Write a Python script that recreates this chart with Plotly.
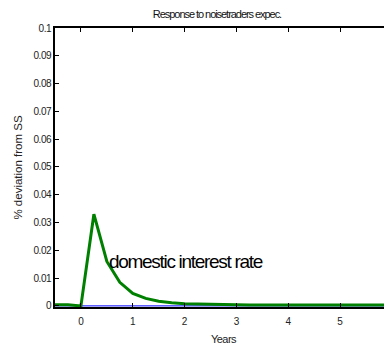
import plotly.graph_objects as go

years = [-0.5 + 0.25 * i for i in range(27)]
interest_rate = [0.0004, 0.0004, 0.0, 0.033, 0.016, 0.0085, 0.0045, 0.0027,
                 0.0017, 0.0011, 0.0008, 0.0007, 0.0004, 0.0003, 0.0003,
                 0.0003, 0.0003, 0.0003, 0.0003, 0.0003, 0.0003, 0.0003,
                 0.0003, 0.0003, 0.0003, 0.0003, 0.0003]
baseline = [0.0] * 27
y_ticks = [0, 0.01, 0.02, 0.03, 0.04, 0.05, 0.06, 0.07, 0.08, 0.09, 0.1]
y_ticklabels = ["0", "0.01", "0.02", "0.03", "0.04", "0.05", "0.06", "0.07", "0.08", "0.09", "0.1"]
x_ticks = [0, 1, 2, 3, 4, 5, 6]

FONT = "Liberation Sans, Arial, sans-serif"

def squeeze(s, px):
    return f"<span style='letter-spacing:{px}px'>{s}</span>"

fig = go.Figure()
fig.add_trace(go.Scatter(x=years, y=baseline, mode="lines",
                         line=dict(color="#0000ff", width=1), showlegend=False))
fig.add_trace(go.Scatter(x=years, y=interest_rate, mode="lines",
                         line=dict(color="#008000", width=3), showlegend=False))

fig.add_annotation(x=0.5, y=0.016, xref="x", yref="y",
                   text=squeeze("domestic interest rate", -1.3),
                   showarrow=False, xanchor="left", yanchor="middle",
                   font=dict(family=FONT, size=19, color="black"))

W, H = 384, 344
fig.update_layout(
    width=W, height=H,
    margin=dict(l=47, r=0, t=20, b=45, autoexpand=False),
    paper_bgcolor="white", plot_bgcolor="white",
    font=dict(family=FONT, size=10, color="#222"),
    title=dict(text=squeeze("Response to noisetraders expec.", -1.05), x=209 / W, xanchor="center",
               y=1 - 6 / H, yanchor="middle", font=dict(family=FONT, size=11, color="#111")),
)
fig.update_xaxes(range=[-0.5, 6], tickvals=x_ticks, ticks="inside", ticklen=4, tickcolor="black",
                 showline=True, linecolor="black", linewidth=1.5, mirror="ticks",
                 showgrid=False, zeroline=False, ticklabelstandoff=4,
                 title=dict(text=squeeze("Years", -0.5), font=dict(family=FONT, size=11), standoff=10),
                 tickfont=dict(family=FONT, size=10))
fig.update_yaxes(range=[-0.0004, 0.1], tickvals=y_ticks, ticktext=[squeeze(t, -0.4) for t in y_ticklabels],
                 ticks="inside", ticklen=4, tickcolor="black",
                 showline=True, linecolor="black", linewidth=1.5, mirror="ticks",
                 showgrid=False, zeroline=False,
                 title=dict(text="% deviation from SS", font=dict(family=FONT, size=11.5), standoff=8),
                 tickfont=dict(family=FONT, size=10))

fig.write_html("out.html")
